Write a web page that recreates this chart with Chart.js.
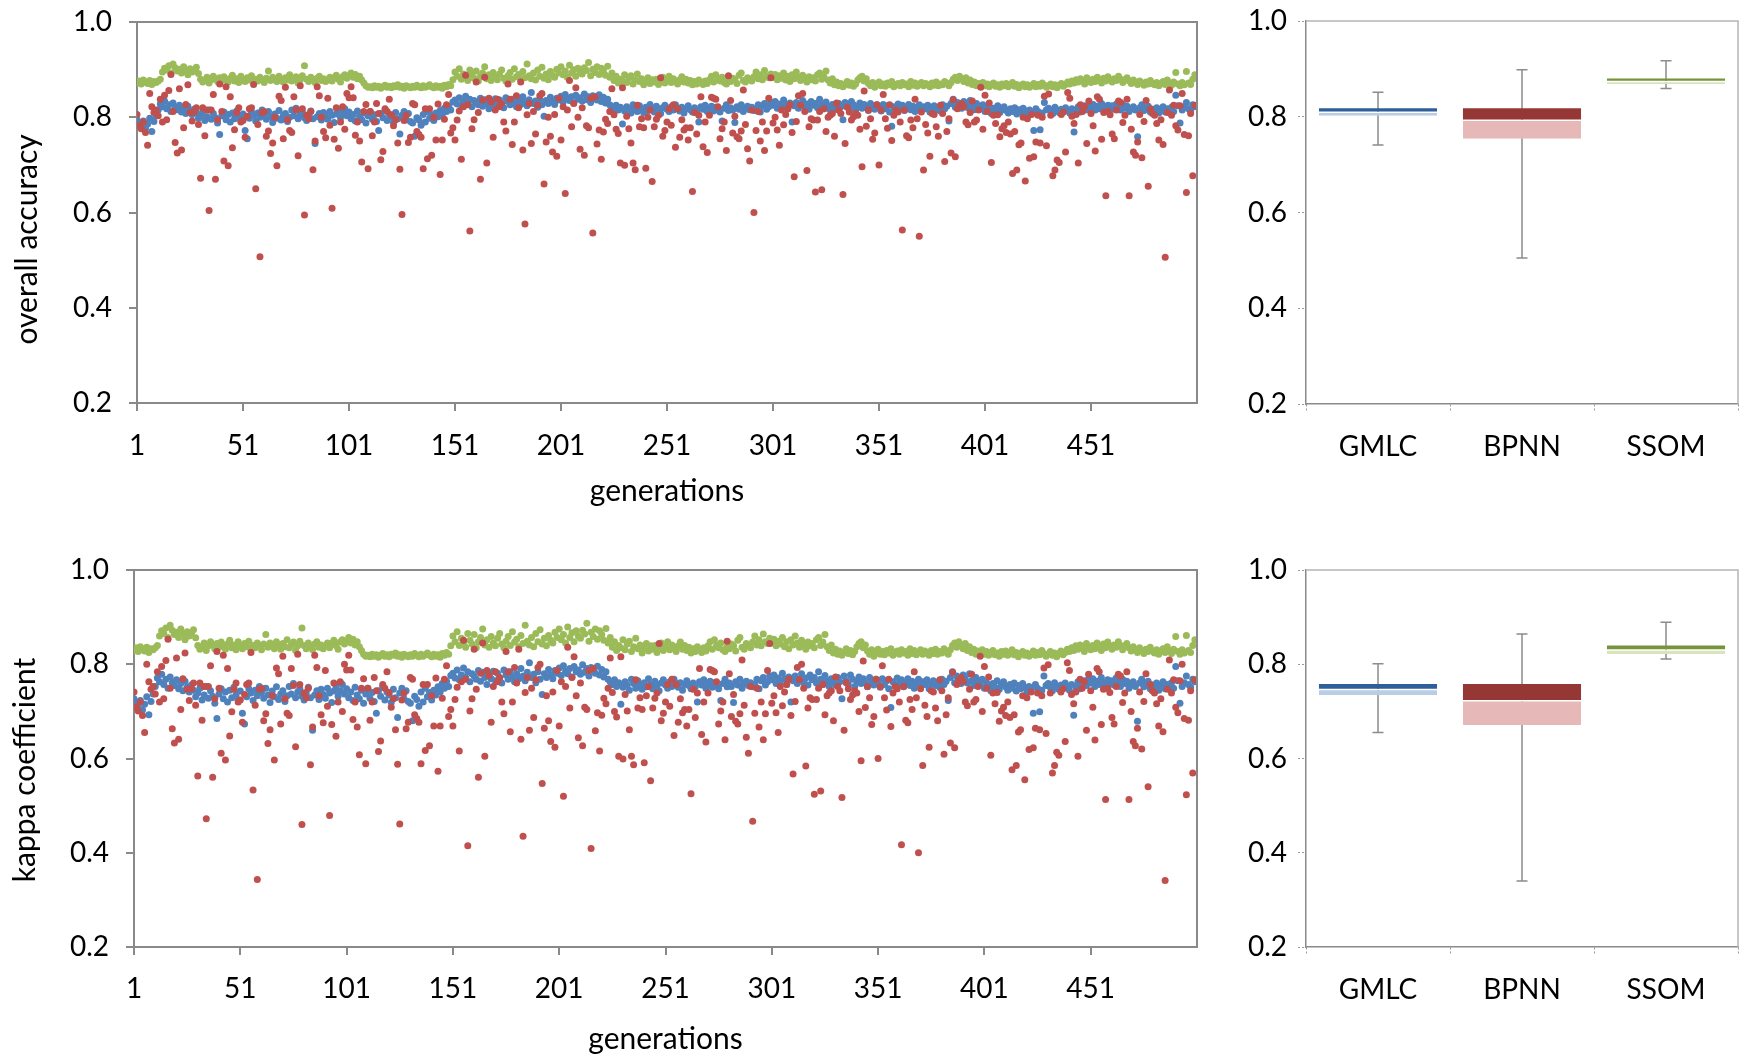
<!DOCTYPE html>
<html>
<head>
<meta charset="utf-8">
<script src="https://cdn.jsdelivr.net/npm/chart.js@4.4.1/dist/chart.umd.min.js"></script>
<style>
  body { margin: 0; background: #fff; overflow: hidden; }
  canvas { position: absolute; }
</style>
</head>
<body>
<canvas id="oaScatter" width="1230" height="512" style="left:0;top:0"></canvas>
<canvas id="oaBox" width="517" height="512" style="left:1230px;top:0"></canvas>
<canvas id="kappaScatter" width="1230" height="518" style="left:0;top:540px"></canvas>
<canvas id="kappaBox" width="517" height="518" style="left:1230px;top:540px"></canvas>
<script>
const methods = ['GMLC', 'BPNN', 'SSOM'];
const xTicks = [1, 51, 101, 151, 201, 251, 301, 351, 401, 451];
const yTicks = [0.2, 0.4, 0.6, 0.8, 1.0];

// overall accuracy per generation
const ssomOA = [
0.872,0.876,0.870,0.878,0.874,0.871,0.877,0.869,0.875,0.873,0.876,0.880,0.895,0.903,0.899,0.908,0.893,0.912,0.904,0.897,
0.901,0.893,0.906,0.898,0.889,0.902,0.895,0.899,0.905,0.892,0.880,0.874,0.878,0.884,0.872,0.879,0.886,0.881,0.875,0.883,
0.877,0.885,0.879,0.874,0.882,0.888,0.876,0.881,0.873,0.886,0.879,0.875,0.883,0.878,0.887,0.874,0.880,0.876,0.884,0.879,
0.873,0.882,0.897,0.877,0.884,0.879,0.875,0.886,0.880,0.874,0.883,0.878,0.889,0.876,0.881,0.885,0.872,0.879,0.887,0.908,
0.880,0.875,0.884,0.878,0.873,0.882,0.886,0.877,0.881,0.875,0.879,0.884,0.876,0.883,0.888,0.880,0.874,0.885,0.889,0.882,
0.887,0.893,0.884,0.890,0.881,0.886,0.878,0.872,0.866,0.863,0.864,0.862,0.866,0.863,0.865,0.861,0.864,0.867,0.863,0.865,
0.862,0.866,0.864,0.868,0.863,0.865,0.861,0.866,0.864,0.862,0.865,0.863,0.867,0.864,0.862,0.866,0.863,0.865,0.868,0.864,
0.862,0.866,0.863,0.865,0.861,0.867,0.864,0.869,0.866,0.879,0.895,0.886,0.902,0.880,0.891,0.884,0.877,0.899,0.888,0.882,
0.897,0.876,0.886,0.893,0.906,0.881,0.889,0.877,0.894,0.884,0.879,0.891,0.899,0.882,0.876,0.887,0.894,0.880,0.902,0.885,
0.890,0.878,0.896,0.883,0.912,0.887,0.881,0.893,0.878,0.899,0.886,0.905,0.882,0.891,0.879,0.896,0.888,0.884,0.901,0.893,
0.906,0.889,0.897,0.884,0.909,0.893,0.900,0.886,0.903,0.895,0.891,0.904,0.898,0.915,0.887,0.901,0.894,0.906,0.890,0.903,
0.897,0.888,0.907,0.884,0.893,0.877,0.886,0.872,0.880,0.876,0.889,0.873,0.882,0.887,0.870,0.878,0.891,0.875,0.881,0.868,
0.876,0.883,0.871,0.879,0.874,0.880,0.869,0.877,0.884,0.872,0.878,0.886,0.873,0.881,0.876,0.870,0.879,0.885,0.874,0.880,
0.872,0.877,0.868,0.875,0.870,0.878,0.873,0.869,0.876,0.871,0.879,0.886,0.874,0.889,0.880,0.876,0.884,0.873,0.870,0.878,
0.875,0.882,0.879,0.871,0.888,0.893,0.877,0.874,0.883,0.880,0.876,0.885,0.895,0.881,0.889,0.879,0.898,0.886,0.883,0.891,
0.884,0.890,0.879,0.887,0.882,0.893,0.878,0.886,0.875,0.889,0.881,0.895,0.884,0.877,0.888,0.880,0.874,0.885,0.879,0.883,
0.876,0.889,0.893,0.880,0.885,0.897,0.878,0.872,0.881,0.868,0.874,0.866,0.871,0.864,0.869,0.875,0.867,0.872,0.865,0.870,
0.878,0.883,0.886,0.876,0.881,0.871,0.866,0.873,0.863,0.868,0.874,0.866,0.870,0.865,0.872,0.868,0.875,0.864,0.869,0.871,
0.866,0.873,0.868,0.870,0.864,0.875,0.867,0.872,0.865,0.869,0.873,0.866,0.871,0.868,0.864,0.872,0.867,0.874,0.866,0.870,
0.868,0.875,0.871,0.866,0.873,0.880,0.884,0.877,0.886,0.881,0.875,0.883,0.872,0.878,0.869,0.874,0.866,0.871,0.868,0.873,
0.866,0.870,0.864,0.869,0.872,0.865,0.868,0.863,0.870,0.866,0.871,0.864,0.868,0.873,0.865,0.869,0.862,0.867,0.870,0.864,
0.868,0.863,0.866,0.871,0.864,0.869,0.865,0.872,0.867,0.863,0.866,0.870,0.864,0.868,0.862,0.867,0.871,0.865,0.869,0.874,
0.870,0.876,0.872,0.879,0.874,0.881,0.876,0.870,0.883,0.877,0.873,0.880,0.875,0.884,0.878,0.872,0.882,0.876,0.885,0.879,
0.874,0.881,0.877,0.886,0.880,0.873,0.879,0.883,0.876,0.871,0.878,0.874,0.869,0.876,0.872,0.867,0.874,0.870,0.877,0.871,
0.868,0.873,0.866,0.871,0.875,0.869,0.878,0.872,0.867,0.874,0.894,0.870,0.866,0.873,0.868,0.896,0.872,0.869,0.880,0.889
];
const gmlcOA = [
0.795,0.788,0.781,0.792,0.777,0.786,0.798,0.770,0.791,0.803,0.815,0.828,0.822,0.834,0.818,0.826,0.812,0.830,0.821,0.816,
0.825,0.811,0.819,0.808,0.823,0.813,0.806,0.817,0.809,0.798,0.804,0.812,0.793,0.801,0.815,0.796,0.808,0.799,0.788,0.764,
0.803,0.811,0.795,0.806,0.790,0.809,0.797,0.813,0.801,0.793,0.807,0.772,0.755,0.798,0.811,0.804,0.792,0.809,0.800,0.815,
0.805,0.796,0.812,0.801,0.789,0.807,0.798,0.814,0.794,0.803,0.808,0.791,0.800,0.815,0.803,0.819,0.797,0.806,0.811,0.799,
0.793,0.805,0.813,0.797,0.745,0.801,0.808,0.794,0.810,0.802,0.796,0.812,0.804,0.789,0.807,0.815,0.799,0.808,0.818,0.803,
0.811,0.797,0.806,0.792,0.813,0.801,0.795,0.809,0.788,0.803,0.812,0.796,0.805,0.791,0.772,0.808,0.799,0.814,0.793,0.806,
0.801,0.789,0.810,0.797,0.765,0.804,0.812,0.795,0.808,0.791,0.788,0.760,0.799,0.794,0.783,0.806,0.790,0.812,0.798,0.805,
0.793,0.809,0.801,0.814,0.806,0.819,0.812,0.823,0.815,0.832,0.836,0.828,0.841,0.825,0.833,0.844,0.829,0.838,0.822,0.835,
0.831,0.826,0.840,0.823,0.837,0.829,0.818,0.834,0.827,0.839,0.824,0.836,0.828,0.820,0.841,0.833,0.826,0.838,0.830,0.822,
0.835,0.827,0.843,0.831,0.824,0.837,0.852,0.829,0.834,0.821,0.838,0.826,0.802,0.835,0.829,0.842,0.833,0.827,0.840,0.836,
0.844,0.832,0.848,0.839,0.835,0.843,0.830,0.846,0.838,0.841,0.834,0.849,0.837,0.843,0.831,0.845,0.840,0.836,0.847,0.833,
0.842,0.830,0.838,0.826,0.822,0.818,0.825,0.815,0.821,0.786,0.813,0.822,0.817,0.809,0.826,0.819,0.812,0.824,0.816,0.810,
0.821,0.814,0.827,0.818,0.811,0.823,0.816,0.808,0.820,0.825,0.817,0.812,0.822,0.815,0.826,0.819,0.813,0.821,0.809,0.818,
0.824,0.816,0.811,0.820,0.814,0.790,0.822,0.817,0.825,0.812,0.818,0.823,0.813,0.821,0.816,0.811,0.792,0.819,0.826,0.814,
0.820,0.815,0.789,0.822,0.817,0.826,0.812,0.819,0.823,0.816,0.821,0.814,0.818,0.826,0.811,0.824,0.829,0.817,0.822,0.831,
0.825,0.833,0.819,0.828,0.822,0.836,0.827,0.818,0.830,0.790,0.824,0.831,0.819,0.826,0.835,0.821,0.828,0.817,0.833,0.825,
0.829,0.820,0.838,0.826,0.818,0.832,0.823,0.815,0.827,0.821,0.817,0.829,0.822,0.795,0.831,0.824,0.818,0.833,0.826,0.815,
0.823,0.830,0.819,0.827,0.821,0.814,0.829,0.822,0.817,0.826,0.820,0.813,0.827,0.818,0.824,0.811,0.781,0.822,0.816,0.828,
0.819,0.825,0.814,0.821,0.827,0.816,0.823,0.812,0.820,0.826,0.815,0.822,0.818,0.825,0.811,0.819,0.824,0.816,0.821,0.813,
0.826,0.818,0.823,0.792,0.829,0.838,0.821,0.831,0.825,0.819,0.833,0.827,0.820,0.835,0.824,0.816,0.829,0.822,0.818,0.826,
0.812,0.821,0.815,0.808,0.819,0.813,0.824,0.810,0.817,0.822,0.814,0.809,0.818,0.812,0.820,0.807,0.816,0.811,0.819,0.813,
0.806,0.815,0.810,0.772,0.818,0.812,0.774,0.809,0.831,0.816,0.819,0.813,0.808,0.821,0.815,0.810,0.817,0.812,0.820,0.814,
0.809,0.818,0.769,0.815,0.822,0.811,0.819,0.824,0.816,0.826,0.820,0.827,0.815,0.823,0.818,0.829,0.821,0.816,0.825,0.819,
0.824,0.817,0.828,0.821,0.815,0.826,0.819,0.823,0.812,0.818,0.822,0.815,0.759,0.820,0.826,0.814,0.819,0.823,0.811,0.817,
0.813,0.820,0.809,0.816,0.822,0.811,0.818,0.814,0.821,0.812,0.846,0.824,0.788,0.815,0.821,0.831,0.818,0.813,0.826,0.822
];
const bpnnOA = [
0.806,0.782,0.776,0.790,0.768,0.741,0.850,0.822,0.810,0.815,0.803,0.838,0.790,0.846,0.795,0.856,0.890,0.812,0.747,0.725,
0.860,0.731,0.778,0.827,0.868,0.810,0.792,0.811,0.820,0.785,0.672,0.820,0.761,0.815,0.604,0.815,0.848,0.670,0.795,0.870,
0.812,0.708,0.864,0.698,0.843,0.736,0.774,0.810,0.820,0.790,0.793,0.758,0.802,0.818,0.820,0.869,0.650,0.785,0.507,0.810,
0.812,0.760,0.771,0.724,0.746,0.800,0.698,0.844,0.835,0.755,0.863,0.795,0.772,0.768,0.843,0.816,0.719,0.866,0.818,0.595,
0.804,0.797,0.812,0.690,0.750,0.864,0.845,0.800,0.770,0.757,0.840,0.783,0.609,0.754,0.820,0.735,0.790,0.822,0.775,0.850,
0.841,0.864,0.841,0.762,0.790,0.750,0.706,0.812,0.827,0.692,0.812,0.761,0.790,0.829,0.808,0.711,0.728,0.818,0.812,0.838,
0.805,0.782,0.795,0.746,0.691,0.596,0.793,0.804,0.747,0.758,0.829,0.826,0.770,0.764,0.758,0.692,0.818,0.713,0.818,0.720,
0.800,0.752,0.828,0.680,0.752,0.796,0.826,0.848,0.767,0.778,0.752,0.794,0.813,0.712,0.822,0.888,0.826,0.561,0.776,0.795,
0.874,0.810,0.670,0.836,0.884,0.704,0.840,0.832,0.758,0.815,0.838,0.822,0.829,0.790,0.771,0.870,0.838,0.743,0.790,0.845,
0.820,0.874,0.731,0.576,0.805,0.829,0.745,0.812,0.765,0.825,0.845,0.850,0.660,0.748,0.800,0.760,0.727,0.806,0.718,0.840,
0.752,0.822,0.640,0.815,0.877,0.780,0.829,0.862,0.800,0.733,0.820,0.720,0.782,0.778,0.840,0.557,0.843,0.744,0.773,0.712,
0.769,0.796,0.787,0.812,0.860,0.805,0.775,0.766,0.704,0.862,0.699,0.802,0.776,0.746,0.704,0.690,0.825,0.780,0.797,0.778,
0.693,0.800,0.815,0.665,0.780,0.796,0.804,0.883,0.760,0.772,0.790,0.818,0.783,0.826,0.737,0.818,0.758,0.795,0.773,0.778,
0.752,0.778,0.644,0.810,0.765,0.804,0.843,0.738,0.790,0.726,0.804,0.842,0.840,0.838,0.822,0.755,0.776,0.790,0.730,0.887,
0.835,0.767,0.802,0.759,0.755,0.771,0.857,0.785,0.734,0.708,0.815,0.600,0.772,0.812,0.750,0.790,0.730,0.771,0.840,0.883,
0.788,0.800,0.773,0.741,0.815,0.784,0.806,0.818,0.826,0.768,0.675,0.791,0.845,0.825,0.850,0.812,0.688,0.780,0.797,0.794,
0.643,0.794,0.812,0.648,0.818,0.770,0.800,0.804,0.808,0.760,0.830,0.815,0.808,0.638,0.745,0.821,0.811,0.794,0.801,0.808,
0.804,0.775,0.696,0.855,0.781,0.815,0.797,0.754,0.767,0.826,0.700,0.815,0.848,0.797,0.777,0.826,0.751,0.804,0.815,0.811,
0.790,0.563,0.815,0.761,0.757,0.794,0.778,0.838,0.797,0.550,0.811,0.689,0.785,0.767,0.718,0.808,0.806,0.780,0.760,0.825,
0.808,0.707,0.770,0.797,0.725,0.837,0.717,0.818,0.825,0.829,0.822,0.790,0.784,0.810,0.834,0.790,0.794,0.815,0.863,0.775,
0.846,0.812,0.830,0.705,0.804,0.787,0.805,0.759,0.776,0.782,0.768,0.790,0.765,0.682,0.770,0.689,0.742,0.746,0.800,0.666,
0.797,0.714,0.806,0.717,0.748,0.804,0.746,0.800,0.844,0.740,0.849,0.804,0.677,0.689,0.710,0.705,0.806,0.811,0.727,0.852,
0.840,0.802,0.787,0.806,0.704,0.826,0.812,0.822,0.745,0.834,0.808,0.782,0.729,0.843,0.838,0.754,0.810,0.635,0.812,0.805,
0.765,0.755,0.815,0.834,0.831,0.789,0.804,0.838,0.635,0.775,0.727,0.720,0.748,0.806,0.715,0.791,0.835,0.655,0.818,0.808,
0.804,0.787,0.752,0.795,0.743,0.506,0.810,0.857,0.804,0.825,0.782,0.773,0.824,0.850,0.764,0.642,0.761,0.808,0.677,0.825
];

// kappa coefficient per generation
const ssomKappa = [
0.829,0.835,0.827,0.837,0.832,0.828,0.836,0.825,0.833,0.831,0.835,0.840,0.860,0.871,0.865,0.877,0.857,0.883,0.872,0.863,
0.868,0.857,0.875,0.864,0.852,0.869,0.860,0.865,0.873,0.856,0.840,0.832,0.837,0.845,0.829,0.839,0.848,0.841,0.833,0.844,
0.836,0.847,0.839,0.832,0.843,0.851,0.835,0.841,0.831,0.848,0.839,0.833,0.844,0.837,0.849,0.832,0.840,0.835,0.845,0.839,
0.831,0.843,0.863,0.836,0.845,0.839,0.833,0.848,0.840,0.832,0.844,0.837,0.852,0.835,0.841,0.847,0.829,0.839,0.849,0.877,
0.840,0.833,0.845,0.837,0.831,0.843,0.848,0.836,0.841,0.833,0.839,0.845,0.835,0.844,0.851,0.840,0.832,0.847,0.852,0.843,
0.849,0.857,0.845,0.853,0.841,0.848,0.837,0.829,0.821,0.817,0.819,0.816,0.821,0.817,0.820,0.815,0.819,0.823,0.817,0.820,
0.816,0.821,0.819,0.824,0.817,0.820,0.815,0.821,0.819,0.816,0.820,0.817,0.823,0.819,0.816,0.821,0.817,0.820,0.824,0.819,
0.816,0.821,0.817,0.820,0.815,0.823,0.819,0.825,0.821,0.839,0.860,0.848,0.869,0.840,0.855,0.845,0.836,0.865,0.851,0.843,
0.863,0.835,0.848,0.857,0.875,0.841,0.852,0.836,0.859,0.845,0.839,0.855,0.865,0.843,0.835,0.849,0.859,0.840,0.869,0.847,
0.853,0.837,0.861,0.844,0.883,0.849,0.841,0.857,0.837,0.865,0.848,0.873,0.843,0.855,0.839,0.861,0.851,0.845,0.868,0.857,
0.875,0.852,0.863,0.845,0.879,0.857,0.867,0.848,0.871,0.860,0.855,0.872,0.864,0.887,0.849,0.868,0.859,0.875,0.853,0.871,
0.863,0.851,0.876,0.845,0.857,0.836,0.848,0.829,0.840,0.835,0.852,0.831,0.843,0.849,0.827,0.837,0.855,0.833,0.841,0.824,
0.835,0.844,0.828,0.839,0.832,0.840,0.825,0.836,0.845,0.829,0.837,0.848,0.831,0.841,0.835,0.827,0.839,0.847,0.832,0.840,
0.829,0.836,0.824,0.833,0.827,0.837,0.831,0.825,0.835,0.828,0.839,0.848,0.832,0.852,0.840,0.835,0.845,0.831,0.827,0.837,
0.833,0.843,0.839,0.828,0.851,0.857,0.836,0.832,0.844,0.840,0.835,0.847,0.860,0.841,0.852,0.839,0.864,0.848,0.844,0.855,
0.845,0.853,0.839,0.849,0.843,0.857,0.837,0.848,0.833,0.852,0.841,0.860,0.845,0.836,0.851,0.840,0.832,0.847,0.839,0.844,
0.835,0.852,0.857,0.840,0.847,0.863,0.837,0.829,0.841,0.824,0.832,0.821,0.828,0.819,0.825,0.833,0.823,0.829,0.820,0.827,
0.837,0.844,0.848,0.835,0.841,0.828,0.821,0.831,0.817,0.824,0.832,0.821,0.827,0.820,0.829,0.824,0.833,0.819,0.825,0.828,
0.821,0.831,0.824,0.827,0.819,0.833,0.823,0.829,0.820,0.825,0.831,0.821,0.828,0.824,0.819,0.829,0.823,0.832,0.821,0.827,
0.824,0.833,0.828,0.821,0.831,0.840,0.845,0.836,0.848,0.841,0.833,0.844,0.829,0.837,0.825,0.832,0.821,0.828,0.824,0.831,
0.821,0.827,0.819,0.825,0.829,0.820,0.824,0.817,0.827,0.821,0.828,0.819,0.824,0.831,0.820,0.825,0.816,0.823,0.827,0.819,
0.824,0.817,0.821,0.828,0.819,0.825,0.820,0.829,0.823,0.817,0.821,0.827,0.819,0.824,0.816,0.823,0.828,0.820,0.825,0.832,
0.827,0.835,0.829,0.839,0.832,0.841,0.835,0.827,0.844,0.836,0.831,0.840,0.833,0.845,0.837,0.829,0.843,0.835,0.847,0.839,
0.832,0.841,0.836,0.848,0.840,0.831,0.839,0.844,0.835,0.828,0.837,0.832,0.825,0.835,0.829,0.823,0.832,0.827,0.836,0.828,
0.824,0.831,0.821,0.828,0.833,0.825,0.837,0.829,0.823,0.832,0.859,0.827,0.821,0.831,0.824,0.861,0.829,0.825,0.840,0.852
];
const gmlcKappa = [
0.727,0.717,0.708,0.723,0.703,0.715,0.731,0.693,0.721,0.737,0.753,0.771,0.763,0.779,0.757,0.768,0.749,0.773,0.761,0.755,
0.767,0.748,0.759,0.744,0.764,0.751,0.741,0.756,0.745,0.731,0.739,0.749,0.724,0.735,0.753,0.728,0.744,0.732,0.717,0.685,
0.737,0.748,0.727,0.741,0.720,0.745,0.729,0.751,0.735,0.724,0.743,0.696,0.673,0.731,0.748,0.739,0.723,0.745,0.733,0.753,
0.740,0.728,0.749,0.735,0.719,0.743,0.731,0.752,0.725,0.737,0.744,0.721,0.733,0.753,0.737,0.759,0.729,0.741,0.748,0.732,
0.724,0.740,0.751,0.729,0.660,0.735,0.744,0.725,0.747,0.736,0.728,0.749,0.739,0.719,0.743,0.753,0.732,0.744,0.757,0.737,
0.748,0.729,0.741,0.723,0.751,0.735,0.727,0.745,0.717,0.737,0.749,0.728,0.740,0.721,0.696,0.744,0.732,0.752,0.724,0.741,
0.735,0.719,0.747,0.729,0.687,0.739,0.749,0.727,0.744,0.721,0.717,0.680,0.732,0.725,0.711,0.741,0.720,0.749,0.731,0.740,
0.724,0.745,0.735,0.752,0.741,0.759,0.749,0.764,0.753,0.776,0.781,0.771,0.788,0.767,0.777,0.792,0.772,0.784,0.763,0.780,
0.775,0.768,0.787,0.764,0.783,0.772,0.757,0.779,0.769,0.785,0.765,0.781,0.771,0.760,0.788,0.777,0.768,0.784,0.773,0.763,
0.780,0.769,0.791,0.775,0.765,0.783,0.803,0.772,0.779,0.761,0.784,0.768,0.736,0.780,0.772,0.789,0.777,0.769,0.787,0.781,
0.792,0.776,0.797,0.785,0.780,0.791,0.773,0.795,0.784,0.788,0.779,0.799,0.783,0.791,0.775,0.793,0.787,0.781,0.796,0.777,
0.789,0.773,0.784,0.768,0.763,0.757,0.767,0.753,0.761,0.715,0.751,0.763,0.756,0.745,0.768,0.759,0.749,0.765,0.755,0.747,
0.761,0.752,0.769,0.757,0.748,0.764,0.755,0.744,0.760,0.767,0.756,0.749,0.763,0.753,0.768,0.759,0.751,0.761,0.745,0.757,
0.765,0.755,0.748,0.760,0.752,0.720,0.763,0.756,0.767,0.749,0.757,0.764,0.751,0.761,0.755,0.748,0.723,0.759,0.768,0.752,
0.760,0.753,0.719,0.763,0.756,0.768,0.749,0.759,0.764,0.755,0.761,0.752,0.757,0.768,0.748,0.765,0.772,0.756,0.763,0.775,
0.767,0.777,0.759,0.771,0.763,0.781,0.769,0.757,0.773,0.720,0.765,0.775,0.759,0.768,0.780,0.761,0.771,0.756,0.777,0.767,
0.772,0.760,0.784,0.768,0.757,0.776,0.764,0.753,0.769,0.761,0.756,0.772,0.763,0.727,0.775,0.765,0.757,0.777,0.768,0.753,
0.764,0.773,0.759,0.769,0.761,0.752,0.772,0.763,0.756,0.768,0.760,0.751,0.769,0.757,0.765,0.748,0.708,0.763,0.755,0.771,
0.759,0.767,0.752,0.761,0.769,0.755,0.764,0.749,0.760,0.768,0.753,0.763,0.757,0.767,0.748,0.759,0.765,0.755,0.761,0.751,
0.768,0.757,0.764,0.723,0.772,0.784,0.761,0.775,0.767,0.759,0.777,0.769,0.760,0.780,0.765,0.755,0.772,0.763,0.757,0.768,
0.749,0.761,0.753,0.744,0.759,0.751,0.765,0.747,0.756,0.763,0.752,0.745,0.757,0.749,0.760,0.743,0.755,0.748,0.759,0.751,
0.741,0.753,0.747,0.696,0.757,0.749,0.699,0.745,0.775,0.755,0.759,0.751,0.744,0.761,0.753,0.747,0.756,0.749,0.760,0.752,
0.745,0.757,0.692,0.753,0.763,0.748,0.759,0.765,0.755,0.768,0.760,0.769,0.753,0.764,0.757,0.772,0.761,0.755,0.767,0.759,
0.765,0.756,0.771,0.761,0.753,0.768,0.759,0.764,0.749,0.757,0.763,0.753,0.679,0.760,0.768,0.752,0.759,0.764,0.748,0.756,
0.751,0.760,0.745,0.755,0.763,0.748,0.757,0.752,0.761,0.749,0.795,0.765,0.717,0.753,0.761,0.775,0.757,0.751,0.768,0.763
];
const bpnnKappa = [
0.741,0.709,0.701,0.720,0.691,0.655,0.800,0.763,0.747,0.753,0.737,0.784,0.720,0.795,0.727,0.808,0.853,0.749,0.663,0.633,
0.813,0.641,0.704,0.769,0.824,0.747,0.723,0.748,0.760,0.713,0.563,0.760,0.681,0.753,0.472,0.753,0.797,0.560,0.727,0.827,
0.749,0.611,0.819,0.597,0.791,0.648,0.699,0.747,0.760,0.720,0.724,0.677,0.736,0.757,0.760,0.825,0.533,0.713,0.343,0.747,
0.749,0.680,0.695,0.632,0.661,0.733,0.597,0.792,0.780,0.673,0.817,0.727,0.696,0.691,0.791,0.755,0.625,0.821,0.757,0.460,
0.739,0.729,0.749,0.587,0.667,0.819,0.793,0.733,0.693,0.676,0.787,0.711,0.479,0.672,0.760,0.647,0.720,0.763,0.700,0.800,
0.788,0.819,0.788,0.683,0.720,0.667,0.608,0.749,0.769,0.589,0.749,0.681,0.720,0.772,0.744,0.615,0.637,0.757,0.749,0.784,
0.740,0.709,0.727,0.661,0.588,0.461,0.724,0.739,0.663,0.677,0.772,0.768,0.693,0.685,0.677,0.589,0.757,0.617,0.757,0.627,
0.733,0.669,0.771,0.573,0.669,0.728,0.768,0.797,0.689,0.704,0.669,0.725,0.751,0.616,0.763,0.851,0.768,0.415,0.701,0.727,
0.832,0.747,0.560,0.781,0.845,0.605,0.787,0.776,0.677,0.753,0.784,0.763,0.772,0.720,0.695,0.827,0.784,0.657,0.720,0.793,
0.760,0.832,0.641,0.435,0.740,0.772,0.660,0.749,0.687,0.767,0.793,0.800,0.547,0.664,0.733,0.680,0.636,0.741,0.624,0.787,
0.669,0.763,0.520,0.753,0.836,0.707,0.772,0.816,0.733,0.644,0.760,0.627,0.709,0.704,0.787,0.409,0.791,0.659,0.697,0.616,
0.692,0.728,0.716,0.749,0.813,0.740,0.700,0.688,0.605,0.816,0.599,0.736,0.701,0.661,0.605,0.587,0.767,0.707,0.729,0.704,
0.591,0.733,0.753,0.553,0.707,0.728,0.739,0.844,0.680,0.696,0.720,0.757,0.711,0.768,0.649,0.757,0.677,0.727,0.697,0.704,
0.669,0.704,0.525,0.747,0.687,0.739,0.791,0.651,0.720,0.635,0.739,0.789,0.787,0.784,0.763,0.673,0.701,0.720,0.640,0.849,
0.780,0.689,0.736,0.679,0.673,0.695,0.809,0.713,0.645,0.611,0.753,0.467,0.696,0.749,0.667,0.720,0.640,0.695,0.787,0.844,
0.717,0.733,0.697,0.655,0.753,0.712,0.741,0.757,0.768,0.691,0.567,0.721,0.793,0.767,0.800,0.749,0.584,0.707,0.729,0.725,
0.524,0.725,0.749,0.531,0.757,0.693,0.733,0.739,0.744,0.680,0.773,0.753,0.744,0.517,0.660,0.761,0.748,0.725,0.735,0.744,
0.739,0.700,0.595,0.807,0.708,0.753,0.729,0.672,0.689,0.768,0.600,0.753,0.797,0.729,0.703,0.768,0.668,0.739,0.753,0.748,
0.720,0.417,0.753,0.681,0.676,0.725,0.704,0.784,0.729,0.400,0.748,0.585,0.713,0.689,0.624,0.744,0.741,0.707,0.680,0.767,
0.744,0.609,0.693,0.729,0.633,0.783,0.623,0.757,0.767,0.772,0.763,0.720,0.712,0.747,0.779,0.720,0.725,0.753,0.817,0.700,
0.795,0.749,0.773,0.607,0.739,0.716,0.740,0.679,0.701,0.709,0.691,0.720,0.687,0.576,0.693,0.585,0.656,0.661,0.733,0.555,
0.729,0.619,0.741,0.623,0.664,0.739,0.661,0.733,0.792,0.653,0.799,0.739,0.569,0.585,0.613,0.607,0.741,0.748,0.636,0.803,
0.787,0.736,0.716,0.741,0.605,0.768,0.749,0.763,0.660,0.779,0.744,0.709,0.639,0.791,0.784,0.672,0.747,0.513,0.749,0.740,
0.687,0.673,0.753,0.779,0.775,0.719,0.739,0.784,0.513,0.700,0.636,0.627,0.664,0.741,0.620,0.721,0.780,0.540,0.757,0.744,
0.739,0.716,0.669,0.727,0.657,0.341,0.747,0.809,0.739,0.767,0.709,0.697,0.765,0.800,0.685,0.523,0.681,0.744,0.569,0.767
];

// box summaries (GMLC, BPNN, SSOM)
const oaMin = [0.741, 0.505, 0.859];
const oaQ1  = [0.802, 0.754, 0.868];
const oaMed = [0.811, 0.794, 0.875];
const oaQ3  = [0.818, 0.818, 0.880];
const oaMax = [0.851, 0.898, 0.917];
const kappaMin = [0.655, 0.340, 0.811];
const kappaQ1  = [0.735, 0.671, 0.822];
const kappaMed = [0.748, 0.724, 0.832];
const kappaQ3  = [0.758, 0.758, 0.840];
const kappaMax = [0.801, 0.864, 0.889];

const blue = '#4F81BD', red = '#C0504D', green = '#9BBB59';
const darkBox = ['#2F5F98', '#953735', '#77933C'];
const lightBox = ['#B9CDE5', '#E6B9B8', '#D7E4BD'];
const axisGray = '#898989';

Chart.defaults.font.family = 'Lato, "Open Sans", sans-serif';
Chart.defaults.font.size = 28;
Chart.defaults.color = '#000';
Chart.defaults.animation = false;
Chart.defaults.plugins.legend.display = false;
Chart.defaults.plugins.tooltip.enabled = false;

// small lineHeight keeps the y labels from pushing the plot top down
const yTickFont = { size: 28, lineHeight: 0.3 };
const titleFont = { size: 30 };

const toPoints = arr => arr.map((v, i) => ({x: i + 1, y: v}));

// top + right edges of the plot area
const frame = (color, width) => ({
  id: 'frame',
  afterDraw(chart) {
    const {ctx, chartArea: a} = chart;
    ctx.save();
    ctx.strokeStyle = color;
    ctx.lineWidth = width;
    ctx.beginPath();
    ctx.moveTo(a.left, a.top);
    ctx.lineTo(a.right, a.top);
    ctx.lineTo(a.right, a.bottom);
    ctx.stroke();
    ctx.restore();
  }
});

// min/max error bars behind the boxes
const whiskers = (lo, hi) => ({
  id: 'whiskers',
  beforeDatasetsDraw(chart) {
    const {ctx, scales: {x, y}} = chart;
    ctx.save();
    ctx.strokeStyle = '#8c8c8c';
    ctx.lineWidth = 1.5;
    lo.forEach((v, i) => {
      const px = x.getPixelForValue(i);
      const y0 = y.getPixelForValue(v), y1 = y.getPixelForValue(hi[i]);
      ctx.beginPath();
      ctx.moveTo(px, y0); ctx.lineTo(px, y1);
      ctx.moveTo(px - 5.5, y0); ctx.lineTo(px + 5.5, y0);
      ctx.moveTo(px - 5.5, y1); ctx.lineTo(px + 5.5, y1);
      ctx.stroke();
    });
    ctx.restore();
  }
});

function scatterChart(id, yTitle, g, b, r, lay) {
  const point = (data, color) => ({
    data: toPoints(data), backgroundColor: color, borderWidth: 0, pointRadius: 3.5
  });
  return new Chart(document.getElementById(id), {
    type: 'scatter',
    data: { datasets: [point(r, red), point(b, blue), point(g, green)] },
    options: {
      responsive: false,
      layout: { padding: { top: lay.top, right: 33, left: 0, bottom: 0 } },
      scales: {
        x: {
          type: 'linear', min: 1, max: 501,
          afterBuildTicks: s => { s.ticks = xTicks.map(v => ({value: v})); },
          afterFit: s => { s.height = lay.xHeight; },
          ticks: { padding: lay.xPad, maxRotation: 0, autoSkip: false },
          grid: { drawOnChartArea: false, color: axisGray, lineWidth: 2, tickLength: 8 },
          border: { color: axisGray, width: 2 },
          title: { display: true, text: 'generations', font: titleFont,
                   padding: { top: 0, bottom: lay.titleBottom } }
        },
        y: {
          min: 0.2, max: 1.0,
          afterBuildTicks: s => { s.ticks = yTicks.map(v => ({value: v})); },
          afterFit: s => { s.width = lay.left; },
          ticks: { padding: 17, font: yTickFont, callback: v => v.toFixed(1) },
          grid: { drawOnChartArea: false, color: axisGray, lineWidth: 2, tickLength: 8 },
          border: { color: axisGray, width: 2 },
          title: { display: true, text: yTitle, font: titleFont,
                   padding: { top: lay.yTitlePad, bottom: 0 } }
        }
      }
    },
    plugins: [frame(axisGray, 2)]
  });
}

function boxChart(id, lo, q1, med, q3, hi, lay) {
  return new Chart(document.getElementById(id), {
    type: 'bar',
    data: {
      labels: methods,
      datasets: [
        { data: methods.map((m, i) => [med[i], q3[i]]), backgroundColor: darkBox,
          grouped: false, borderWidth: 0 },
        { data: methods.map((m, i) => [q1[i], med[i]]), backgroundColor: lightBox,
          grouped: false, borderColor: '#fff', borderSkipped: false,
          borderWidth: { top: 1.5, bottom: 0, left: 0, right: 0 } }
      ]
    },
    options: {
      responsive: false,
      barPercentage: 0.82,
      categoryPercentage: 1.0,
      layout: { padding: { top: lay.top, right: 9, left: 0, bottom: 0 } },
      scales: {
        x: {
          afterFit: s => { s.height = lay.xHeight; },
          ticks: { padding: lay.xPad },
          grid: { offset: true, drawOnChartArea: false, color: '#9a9a9a', lineWidth: 1,
                  tickLength: 8, tickBorderDash: [2, 2] },
          border: { color: '#8a8a8a', width: 1.5, dash: [2, 2] }
        },
        y: {
          min: 0.2, max: 1.0,
          afterBuildTicks: s => { s.ticks = yTicks.map(v => ({value: v})); },
          afterFit: s => { s.width = 76; },
          ticks: { padding: 11, font: yTickFont, callback: v => v.toFixed(1) },
          grid: { drawOnChartArea: false, color: '#9a9a9a', lineWidth: 1,
                  tickLength: 8, tickBorderDash: [2, 2] },
          border: { color: '#8a8a8a', width: 1.5, dash: [2, 2] }
        }
      }
    },
    plugins: [whiskers(lo, hi), frame('#b5b5b5', 1.5)]
  });
}

scatterChart('oaScatter', 'overall accuracy       ', ssomOA, gmlcOA, bpnnOA,
  { top: 22, left: 137, xHeight: 109, xPad: 18, titleBottom: 3, yTitlePad: 9 });
scatterChart('kappaScatter', 'kappa coefficient   ', ssomKappa, gmlcKappa, bpnnKappa,
  { top: 30, left: 134, xHeight: 111, xPad: 17, titleBottom: 1, yTitlePad: 7 });
boxChart('oaBox', oaMin, oaQ1, oaMed, oaQ3, oaMax, { top: 21, xHeight: 108, xPad: 18 });
boxChart('kappaBox', kappaMin, kappaQ1, kappaMed, kappaQ3, kappaMax, { top: 30, xHeight: 111, xPad: 18 });
</script>
</body>
</html>
